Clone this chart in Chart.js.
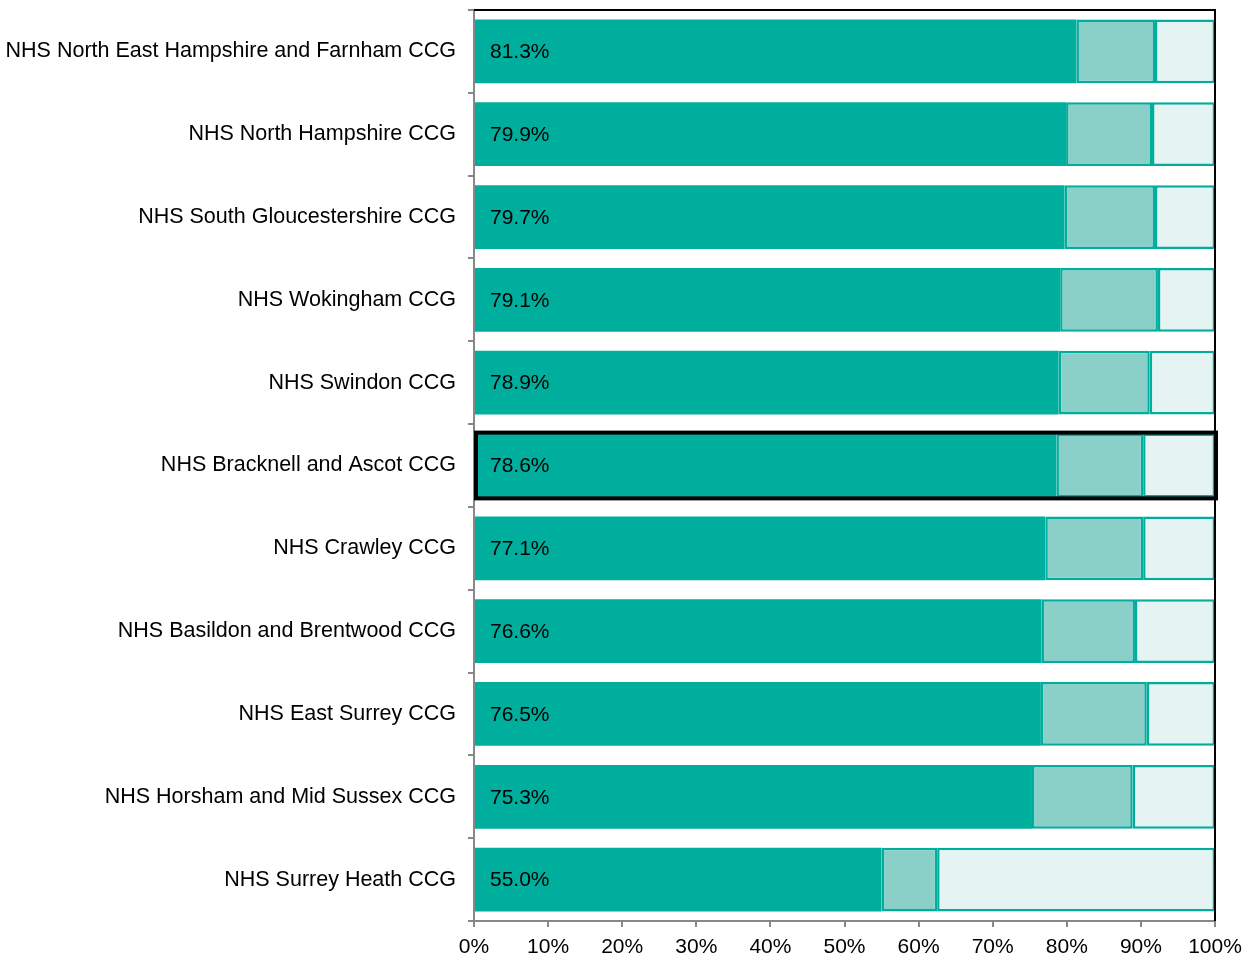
<!DOCTYPE html>
<html>
<head>
<meta charset="utf-8">
<script src="https://cdn.jsdelivr.net/npm/chart.js@4/dist/chart.umd.min.js"></script>
<style>
  html, body { margin: 0; padding: 0; background: #ffffff; }
  #wrap { width: 1246px; height: 959px; position: relative; }
</style>
</head>
<body>
<div id="wrap"><canvas id="c" width="1246" height="959"></canvas></div>
<script>
const categories = [
  "NHS North East Hampshire and Farnham CCG",
  "NHS North Hampshire CCG",
  "NHS South Gloucestershire CCG",
  "NHS Wokingham CCG",
  "NHS Swindon CCG",
  "NHS Bracknell and Ascot CCG",
  "NHS Crawley CCG",
  "NHS Basildon and Brentwood CCG",
  "NHS East Surrey CCG",
  "NHS Horsham and Mid Sussex CCG",
  "NHS Surrey Heath CCG"
];
const firstSeries  = [81.3, 79.9, 79.7, 79.1, 78.9, 78.6, 77.1, 76.6, 76.5, 75.3, 55.0];
const secondSeries = [10.6, 11.6, 12.2, 13.2, 12.3, 11.7, 13.2, 12.6, 14.3, 13.6, 7.5];
const thirdSeries  = [8.1, 8.5, 8.1, 7.7, 8.8, 9.7, 9.7, 10.8, 9.2, 11.1, 37.5];
const xTickValues  = [0, 10, 20, 30, 40, 50, 60, 70, 80, 90, 100];
const highlighted  = "NHS Bracknell and Ascot CCG";

const FONT = "'Liberation Sans', Arial, sans-serif";
const TEAL = "rgb(0,174,157)";

const overlay = {
  id: 'overlay',
  afterDatasetsDraw(chart) {
    const ctx = chart.ctx;
    const area = chart.chartArea;
    const xs = chart.scales.x;
    const meta = chart.getDatasetMeta(0);
    ctx.save();
    // value labels
    ctx.font = "21px " + FONT;
    ctx.fillStyle = "#000";
    ctx.textBaseline = "middle";
    ctx.textAlign = "left";
    meta.data.forEach((bar, i) => {
      ctx.fillText(firstSeries[i].toFixed(1) + "%", xs.getPixelForValue(0) + 16, bar.y + 1);
    });
    // highlight box
    const hi = categories.indexOf(highlighted);
    if (hi >= 0) {
      const bar = meta.data[hi];
      const h = bar.height;
      ctx.strokeStyle = "#000";
      ctx.lineWidth = 4;
      ctx.strokeRect(xs.getPixelForValue(0) + 2, bar.y - h / 2 - 1, xs.getPixelForValue(100) - xs.getPixelForValue(0) - 1, h + 2);
    }
    // top and right frame
    ctx.strokeStyle = "#000";
    ctx.lineWidth = 2;
    ctx.beginPath();
    ctx.moveTo(area.left, area.top);
    ctx.lineTo(area.right, area.top);
    ctx.lineTo(area.right, area.bottom);
    ctx.stroke();
    ctx.restore();
  }
};

new Chart(document.getElementById('c'), {
  type: 'bar',
  data: {
    labels: categories,
    datasets: [
      { data: firstSeries, backgroundColor: TEAL, borderWidth: 0, borderSkipped: false },
      { data: secondSeries, backgroundColor: "rgb(138,208,200)", borderColor: TEAL, borderWidth: 2.5, borderSkipped: false },
      { data: thirdSeries, backgroundColor: "rgb(229,243,242)", borderColor: TEAL, borderWidth: 2.5, borderSkipped: false }
    ]
  },
  options: {
    indexAxis: 'y',
    responsive: false,
    animation: false,
    devicePixelRatio: 1,
    barPercentage: 0.77,
    categoryPercentage: 1.0,
    layout: { padding: { top: 10, right: 31, left: 0, bottom: 0 } },
    plugins: { legend: { display: false }, tooltip: { enabled: false } },
    scales: {
      x: {
        stacked: true,
        min: 0, max: 100,
        afterBuildTicks(scale) { scale.ticks = xTickValues.map(v => ({ value: v })); },
        ticks: { callback: v => v + "%", color: "#000", font: { family: FONT, size: 21 }, padding: 8, maxRotation: 0, autoSkip: false },
        grid: { drawOnChartArea: false, drawTicks: true, tickLength: 6, color: "#888", lineWidth: 2 },
        border: { display: true, color: "#888", width: 2 },
        afterFit(scale) { scale.height = 38; scale.paddingRight = 0; scale.paddingLeft = 0; }
      },
      y: {
        stacked: true,
        ticks: { color: "#000", font: { family: FONT, size: 21.5 }, padding: 12, autoSkip: false },
        grid: { drawOnChartArea: false, drawTicks: true, tickLength: 6, color: "#888", lineWidth: 2, offset: true },
        border: { display: true, color: "#888", width: 2 },
        afterFit(scale) { scale.width = 474; scale.paddingTop = 0; scale.paddingBottom = 0; }
      }
    }
  },
  plugins: [overlay]
});
</script>
</body>
</html>
